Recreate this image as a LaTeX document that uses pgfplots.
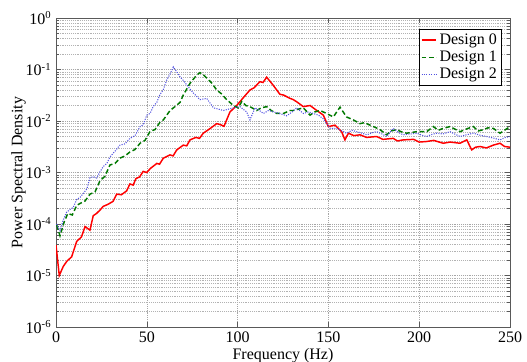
\documentclass[border=0pt]{standalone}
\usepackage{fontspec}
\setmainfont{Liberation Serif}
\usepackage{pgfplots}
\pgfplotsset{compat=1.18}
\begin{document}
\begin{tikzpicture}
\begin{axis}[
  scale only axis,
  width=340.5pt, height=231.75pt,
  ymode=log,
  xmin=0, xmax=250, ymin=1e-6, ymax=1,
  xtick={0,50,100,150,200,250},
  ytick={1e-6,1e-5,1e-4,1e-3,1e-2,1e-1,1},
  yticklabels={10\textsuperscript{-6},10\textsuperscript{-5},10\textsuperscript{-4},10\textsuperscript{-3},10\textsuperscript{-2},10\textsuperscript{-1},10\textsuperscript{0}},
  /pgf/number format/assume math mode=true,
  tick align=inside,
  tick pos=both,
  major tick length=4pt, minor tick length=2pt,
  axis line style={black!65},
  tick style={black!65},
  grid=both,
  xminorgrids=false,
  major grid style={densely dotted, black!35},
  minor grid style={densely dotted, black!30},
  ticklabel style={font=\fontsize{12}{14}\selectfont},
  label style={font=\fontsize{12}{14}\selectfont},
  xlabel={Frequency (Hz)},
  ylabel={Power Spectral Density},
  xlabel style={yshift=2.5pt},
  ylabel style={yshift=-7pt},
  legend style={at={(rel axis cs:0.982,0.965)}, anchor=north east, font=\fontsize{12}{14}\selectfont, inner sep=1.5pt, row sep=-0.5pt, cells={anchor=west}},
  legend cell align=left,
  legend image code/.code={\draw[#1] (0pt,0pt) -- (11pt,0pt);},
]
\coordinate (ll) at (rel axis cs:0,0);
\coordinate (ur) at (rel axis cs:1,1);
\addplot[red, line width=1.1pt] coordinates {
(0,3.9e-5) (1.8,1.0e-5) (4,1.5e-5) (6,1.9e-5) (8.6,2.3e-5) (11.4,4.6e-5) (14,5.6e-5) (16,8.9e-5) (18.7,7.6e-5)
(20.5,1.45e-4) (22.3,1.6e-4) (24.2,1.86e-4) (26,2.2e-4) (28.5,2.4e-4) (31.4,2.75e-4) (33.4,3.8e-4) (36,3.7e-4) (38.9,4.4e-4)
(40.7,6.0e-4) (42.5,5.7e-4) (44,7.6e-4) (46,8.2e-4) (48,1.05e-3) (50,1.0e-3) (52,1.2e-3) (55.5,1.5e-3) (57,1.45e-3)
(59.1,1.9e-3) (62.8,2.2e-3) (64.5,2.1e-3) (66.5,2.75e-3) (70.1,3.4e-3) (72,3.3e-3) (73.8,4.3e-3) (77,4.8e-3)
(79,4.6e-3) (81.1,5.8e-3) (85,7.2e-3) (88.5,8.9e-3) (90.5,8.5e-3) (92.5,7.9e-3) (95.8,1.5e-2) (99.5,2.0e-2)
(103,2.8e-2) (106.8,4.0e-2) (109,4.4e-2) (112.3,5.8e-2) (114,5.6e-2) (116,7.1e-2) (119.7,4.9e-2) (123.3,3.3e-2)
(125.2,3.2e-2) (128.9,2.75e-2) (130.7,2.6e-2) (133,2.3e-2) (136.2,1.9e-2) (139.9,2.0e-2) (143.6,1.6e-2) (147.2,1.3e-2)
(150,7.8e-3) (153.6,8.3e-3) (157.3,6.2e-3) (159.1,4.3e-3) (161,5.8e-3) (164,5.2e-3) (167.4,5.4e-3) (171,4.8e-3)
(176.6,5.0e-3) (180,4.4e-3) (185.7,4.6e-3) (188,4.1e-3) (191.2,4.3e-3) (197,4.4e-3) (200,3.9e-3) (204.1,4.0e-3)
(208,4.2e-3) (213.2,3.7e-3) (217,3.9e-3) (222.5,3.7e-3) (226.2,4.3e-3) (228.9,2.75e-3) (231,3.1e-3) (233.5,3.2e-3)
(237,3.0e-3) (240.8,3.4e-3) (244.5,3.7e-3) (247,3.2e-3) (250,3.1e-3)
};
\addlegendentry{Design 0}
\addplot[color={rgb,255:red,0;green,120;blue,0}, line width=1.1pt, dash pattern=on 3.5pt off 2pt] coordinates {
(0.4,9.5e-5) (2.2,5.9e-5) (4.5,1.1e-4) (6.5,1.6e-4) (9,1.5e-4) (11.4,2.3e-4) (13.2,2.5e-4) (16,2.8e-4) (18.7,3.8e-4)
(21.5,4.2e-4) (24.2,6.9e-4) (27,8.5e-4) (29.7,1.4e-3) (32.5,1.5e-3) (35.2,1.9e-3) (38,2.1e-3) (40.7,2.5e-3)
(43.5,2.8e-3) (46.3,3.7e-3) (49,4.2e-3) (51.8,6.3e-3) (54.5,6.8e-3) (57.3,9.5e-3) (59.1,1.05e-2) (62.8,1.6e-2)
(65.5,1.9e-2) (68.3,2.3e-2) (70.1,3.2e-2) (73.8,5.4e-2) (77.5,7.8e-2) (79.3,8.7e-2) (81,8.0e-2) (83,6.8e-2)
(85.5,5.6e-2) (88.5,4.0e-2) (91,3.4e-2) (94,2.6e-2) (97.7,2.0e-2) (100.4,1.8e-2) (102.3,2.4e-2) (104.5,2.0e-2)
(106.8,1.9e-2) (110.5,1.6e-2) (113,1.8e-2) (116,1.9e-2) (118.5,1.6e-2) (121.5,1.4e-2) (125.2,1.4e-2) (128.9,1.6e-2)
(130.7,1.6e-2) (133.5,1.7e-2) (136.2,1.8e-2) (139.9,1.3e-2) (142.5,1.5e-2) (145.4,1.6e-2) (149,1.4e-2) (152.7,1.2e-2)
(156.4,1.86e-2) (160,1.2e-2) (163.7,1.05e-2) (167.4,8.9e-3) (170,9.3e-3) (172.9,8.3e-3) (175.5,7.6e-3) (178.4,6.8e-3)
(182.1,5.4e-3) (184.5,6.4e-3) (187.6,6.8e-3) (190,6.2e-3) (193.1,5.8e-3) (198.6,6.2e-3) (204.1,6.2e-3) (207.8,7.8e-3)
(210.5,6.6e-3) (213.2,7.2e-3) (217,7.8e-3) (219.5,7.0e-3) (222.5,6.2e-3) (226,7.0e-3) (229.8,7.8e-3) (232.5,6.4e-3)
(235.3,6.8e-3) (238,7.4e-3) (240.8,7.2e-3) (244.5,5.8e-3) (247.5,6.8e-3) (250,7.8e-3)
};
\addlegendentry{Design 1}
\addplot[color={rgb,255:red,80;green,80;blue,225}, line width=0.8pt, densely dotted] coordinates {
(0.4,1.0e-4) (2.2,7.4e-5) (4,1.2e-4) (5.9,1.7e-4) (7.5,1.9e-4) (9.5,2.1e-4) (11.4,3.0e-4) (13.3,3.3e-4) (15.2,4.0e-4)
(17,4.8e-4) (18.7,7.9e-4) (20.5,8.3e-4) (22.4,7.8e-4) (24,1.0e-3) (26,1.3e-3) (28,1.5e-3) (29.7,2.0e-3) (32.5,2.6e-3)
(35.2,3.4e-3) (38,3.6e-3) (40.7,4.6e-3) (43.5,5.2e-3) (46.3,7.8e-3) (48,8.4e-3) (50,1.3e-2) (51.8,1.4e-2) (53.5,1.9e-2)
(55.5,2.3e-2) (57.3,3.3e-2) (59,4.0e-2) (61,6.3e-2) (63,8.4e-2) (64.6,0.112) (66.5,9.0e-2) (68.3,7.2e-2) (70,6.2e-2)
(72,5.0e-2) (75.6,3.5e-2) (79.3,2.6e-2) (83,2.75e-2) (86.7,1.8e-2) (89.5,1.7e-2) (92.2,1.6e-2) (95,1.7e-2)
(97.7,1.8e-2) (101.3,1.9e-2) (105,1.5e-2) (106.8,1.05e-2) (109.6,1.8e-2) (112,1.6e-2) (114.2,1.4e-2) (117,1.6e-2)
(119.7,1.5e-2) (123.3,1.4e-2) (127,1.26e-2) (130,1.5e-2) (132.5,1.8e-2) (136.2,1.4e-2) (139,1.5e-2) (141.7,1.4e-2)
(144.5,1.3e-2) (147.2,1.1e-2) (151,7.2e-3) (154.6,7.2e-3) (157.5,6.4e-3) (160,5.8e-3) (163,6.6e-3) (165.6,6.2e-3)
(168.5,5.8e-3) (171.1,5.4e-3) (174,5.9e-3) (176.6,6.2e-3) (179.5,5.6e-3) (182.1,5.0e-3) (185.7,7.2e-3) (188.5,6.0e-3)
(191.2,5.4e-3) (195,5.6e-3) (198.6,5.8e-3) (201.5,5.3e-3) (204.1,5.0e-3) (207,5.5e-3) (209.6,5.8e-3) (213,5.6e-3)
(217,6.2e-3) (219.5,5.6e-3) (222.5,5.0e-3) (226,5.4e-3) (229.8,5.8e-3) (233.5,5.3e-3) (237.1,5.0e-3) (240.5,4.7e-3)
(244.5,4.3e-3) (247.5,4.8e-3) (250,5.0e-3)
};
\addlegendentry{Design 2}
\end{axis}
\pgfresetboundingbox
\path ([xshift=-42pt,yshift=-25.5pt]ll) rectangle ([xshift=12.75pt,yshift=13.5pt]ur);
\end{tikzpicture}
\end{document}
